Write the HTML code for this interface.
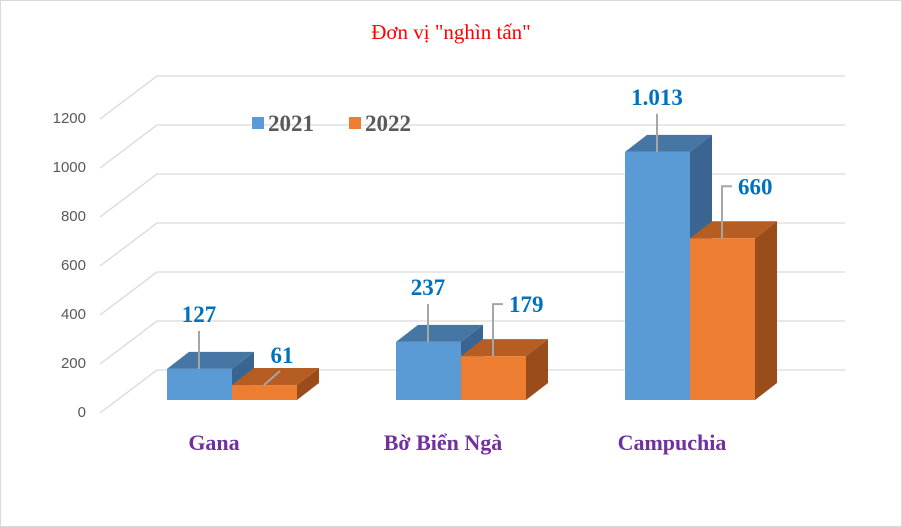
<!DOCTYPE html>
<html><head><meta charset="utf-8"><style>
body{margin:0;background:#fff;}
svg{display:block;font-family:"Liberation Serif","DejaVu Serif",serif;}
</style></head><body>
<svg id="chart" width="902" height="527" viewBox="0 0 902 527">
<rect x="0.5" y="0.5" width="901" height="526" fill="#fff" stroke="#d9d9d9"/>
<text x="451" y="39" text-anchor="middle" fill="#ff0000" font-size="21">Đơn vị "nghìn tấn"</text>
<g id="grid"></g>
<g id="ticks"></g>
<g id="bars"></g>
<g id="cats"></g>
<g>
 <g><rect x="252" y="117" width="12" height="12" fill="#5b9bd5"/><text x="268" y="131" font-size="23" font-weight="bold" fill="#595959">2021</text></g>
 <g><rect x="349" y="117" width="12" height="12" fill="#ed7d31"/><text x="365" y="131" font-size="23" font-weight="bold" fill="#595959">2022</text></g>
</g>
</svg>
<script>
const categories=["Gana","Bờ Biển Ngà","Campuchia"];
const series2021=[127,237,1013];
const series2022=[61,179,660];
const labels2021=["127","237","1.013"];
const labels2022=["61","179","660"];
const tickValues=[0,200,400,600,800,1000,1200];
const NS="http://www.w3.org/2000/svg";
const K=49/200; // px per unit
const yFront=v=>400-v*K;
const yGridBack=v=>370-v*K;
const catX=i=>167+i*229;
function mk(tag,attrs,parent){const e=document.createElementNS(NS,tag);for(const k in attrs)e.setAttribute(k,attrs[k]);parent.appendChild(e);return e;}
const grid=document.getElementById('grid'),ticks=document.getElementById('ticks'),bars=document.getElementById('bars'),cats=document.getElementById('cats');
tickValues.forEach(v=>{
 const yb=yGridBack(v);
 const p=mk('polyline',{points:`100,${yb+43} 157,${yb} 845,${yb}`,fill:'none',stroke:'#d9d9d9','stroke-width':1.3},grid);
 
 
 const t=mk('text',{x:86,y:yb+47,'text-anchor':'end','font-size':15,fill:'#595959','font-family':'Liberation Sans, sans-serif'},ticks);
 t.textContent=v;
 
 
});
const DX=22,DY=-17,W=65;
function bar(x,v,cols,name){
 const g=mk('g',{},bars);
 
 
 const yt=yFront(v);
 mk('polygon',{points:`${x+W},400 ${x+W+DX},${400+DY} ${x+W+DX},${yt+DY} ${x+W},${yt}`,fill:cols[2]},g);
 mk('polygon',{points:`${x},${yt} ${x+DX},${yt+DY} ${x+W+DX},${yt+DY} ${x+W},${yt}`,fill:cols[1]},g);
 mk('rect',{x:x,y:yt,width:W,height:400-yt,fill:cols[0]},g);
 return yt;
}
function label(x,yt,txt,name,elbow){
 const cx=x+32;
 const ly=yt-36;
 if(elbow){
  mk('polyline',{points:`${cx},${yt} ${cx},${yt-52} ${cx+10},${yt-52}`,fill:'none',stroke:'#a6a6a6','stroke-width':2},bars);
  const t=mk('text',{x:cx+16,y:yt-44,'font-size':23,'font-weight':'bold',fill:'#0070c0'},bars);
  t.textContent=txt;
 } else {
  mk('line',{x1:cx,y1:yt,x2:cx,y2:yt-38,stroke:'#a6a6a6','stroke-width':2},bars);
  const t=mk('text',{x:cx,y:yt-47,'text-anchor':'middle','font-size':23,'font-weight':'bold',fill:'#0070c0'},bars);
  t.textContent=txt;
 }
}
categories.forEach((c,i)=>{
 const x=catX(i);
 const y1=bar(x,series2021[i],['#5b9bd5','#4676a3','#3a6590'],'bar-2021-'+i);
 const y2=bar(x+W,series2022[i],['#ed7d31','#b55d22','#9a4d1b'],'bar-2022-'+i);
 label(x,y1,labels2021[i],'value-label-2021',false);
 if(i===0){
  mk('line',{x1:x+W+32,y1:y2,x2:x+W+48,y2:y2-14,stroke:'#a6a6a6','stroke-width':2},bars);
  const t=mk('text',{x:x+W+50,y:y2-22,'text-anchor':'middle','font-size':23,'font-weight':'bold',fill:'#0070c0'},bars);
  t.textContent=labels2022[i];
 } else label(x+W,y2,labels2022[i],'value-label-2022',true);
 const t=mk('text',{x:x+47,y:450,'text-anchor':'middle','font-size':22,'font-weight':'bold',fill:'#7030a0'},cats);
 t.textContent=c;
 
 
});
</script>
</body></html>
